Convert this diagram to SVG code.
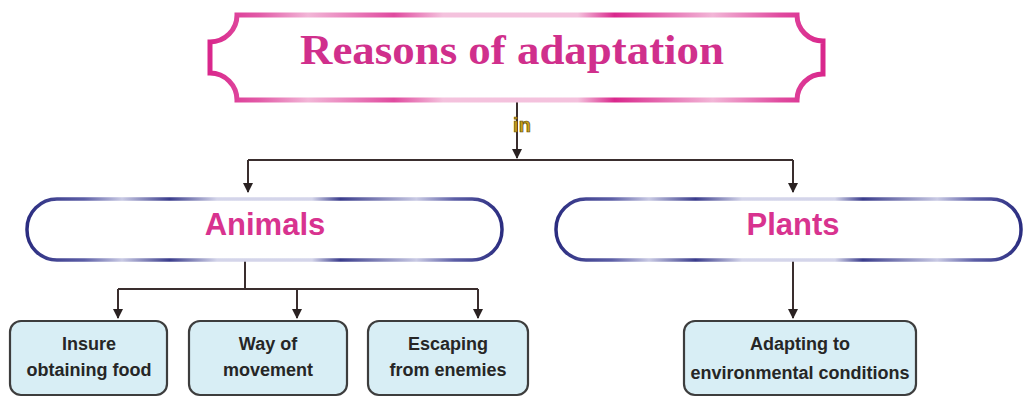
<svg xmlns="http://www.w3.org/2000/svg" width="1024" height="397" viewBox="0 0 1024 397">
<style>
.title{font-family:"Liberation Serif",serif;font-weight:bold;font-size:43px;fill:#d02f8c;text-anchor:middle}
.cat{font-family:"Liberation Sans",Arial,sans-serif;font-weight:bold;font-size:31px;fill:#d8338f;text-anchor:middle}
.leaf{font-family:"Liberation Sans",Arial,sans-serif;font-weight:bold;font-size:18px;fill:#262626;text-anchor:middle}
.lbl{font-family:"Liberation Sans",Arial,sans-serif;font-weight:bold;font-size:20px;fill:#c9a21a;stroke:#5e4a0c;stroke-width:0.7;text-anchor:middle}
.conn{fill:none;stroke:#3a2e2e;stroke-width:2}
.leafbox{fill:#d8eef5;stroke:#3d3d3d;stroke-width:2.2}
</style>
<defs>
<linearGradient id="pinkG" x1="0" y1="0" x2="1" y2="0">
<stop offset="0" stop-color="#d9278c"/>
<stop offset="0.08" stop-color="#e25aa7"/>
<stop offset="0.16" stop-color="#f2b6d7"/>
<stop offset="0.3" stop-color="#e04a9f"/>
<stop offset="0.38" stop-color="#f4c2dd"/>
<stop offset="0.6" stop-color="#f4c2dd"/>
<stop offset="0.66" stop-color="#d9278c"/>
<stop offset="0.82" stop-color="#f2b6d7"/>
<stop offset="0.93" stop-color="#e04a9f"/>
<stop offset="1" stop-color="#d9278c"/>
</linearGradient>
<linearGradient id="navyG" x1="0" y1="0" x2="1" y2="0">
<stop offset="0" stop-color="#2b2d80"/>
<stop offset="0.12" stop-color="#5c5ea6"/>
<stop offset="0.2" stop-color="#c9cae4"/>
<stop offset="0.3" stop-color="#3a3c8c"/>
<stop offset="0.4" stop-color="#d4d5ea"/>
<stop offset="0.6" stop-color="#d4d5ea"/>
<stop offset="0.66" stop-color="#3a3c8c"/>
<stop offset="0.82" stop-color="#c9cae4"/>
<stop offset="0.9" stop-color="#5c5ea6"/>
<stop offset="1" stop-color="#2b2d80"/>
</linearGradient>
<marker id="arr" viewBox="0 0 10 10" refX="9" refY="5" markerWidth="5" markerHeight="5" orient="auto" markerUnits="strokeWidth">
<path d="M0,0 L10,5 L0,10 Z" fill="#2a2222"/>
</marker>
</defs>

<g id="connectors">
<path class="conn" d="M517,102 L517,158" marker-end="url(#arr)"/>
<path class="conn" d="M248,160 L793,160"/>
<path class="conn" d="M248,160 L248,192" marker-end="url(#arr)"/>
<path class="conn" d="M793,160 L793,192" marker-end="url(#arr)"/>
<path class="conn" d="M245,261 L245,289"/>
<path class="conn" d="M118,289 L478,289"/>
<path class="conn" d="M118,289 L118,318" marker-end="url(#arr)"/>
<path class="conn" d="M297,289 L297,318" marker-end="url(#arr)"/>
<path class="conn" d="M478,289 L478,318" marker-end="url(#arr)"/>
<path class="conn" d="M793,261 L793,318" marker-end="url(#arr)"/>
<text class="lbl" x="522" y="132">in</text>
</g>

<g id="title">
<path d="M237,15 L797,15 A26,26 0 0 0 823,41 L823,74 A26,26 0 0 0 797,100 L237,100 A27,27 0 0 0 210,73 L210,42 A27,27 0 0 0 237,15 Z" fill="#ffffff" stroke="url(#pinkG)" stroke-width="5"/>
<text class="title" x="512" y="64" textLength="424" lengthAdjust="spacingAndGlyphs">Reasons of adaptation</text>
</g>

<g id="animals">
<rect x="27" y="199" width="475" height="61" rx="30" ry="30" fill="#ffffff" stroke="url(#navyG)" stroke-width="3.5"/>
<text class="cat" x="265" y="235">Animals</text>
</g>

<g id="plants">
<rect x="556" y="199" width="465" height="61" rx="30" ry="30" fill="#ffffff" stroke="url(#navyG)" stroke-width="3.5"/>
<text class="cat" x="793" y="235">Plants</text>
</g>

<g id="food">
<rect class="leafbox" x="10" y="321" width="157" height="74" rx="11"/>
<text class="leaf" x="89" y="350">Insure</text>
<text class="leaf" x="89" y="376">obtaining food</text>
</g>

<g id="movement">
<rect class="leafbox" x="189" y="321" width="158" height="74" rx="11"/>
<text class="leaf" x="268" y="350">Way of</text>
<text class="leaf" x="268" y="376">movement</text>
</g>

<g id="enemies">
<rect class="leafbox" x="368" y="321" width="160" height="74" rx="11"/>
<text class="leaf" x="448" y="350">Escaping</text>
<text class="leaf" x="448" y="376">from enemies</text>
</g>

<g id="environment">
<rect class="leafbox" x="684" y="321" width="232" height="74" rx="11"/>
<text class="leaf" x="800" y="350">Adapting to</text>
<text class="leaf" x="800" y="379">environmental conditions</text>
</g>
</svg>
